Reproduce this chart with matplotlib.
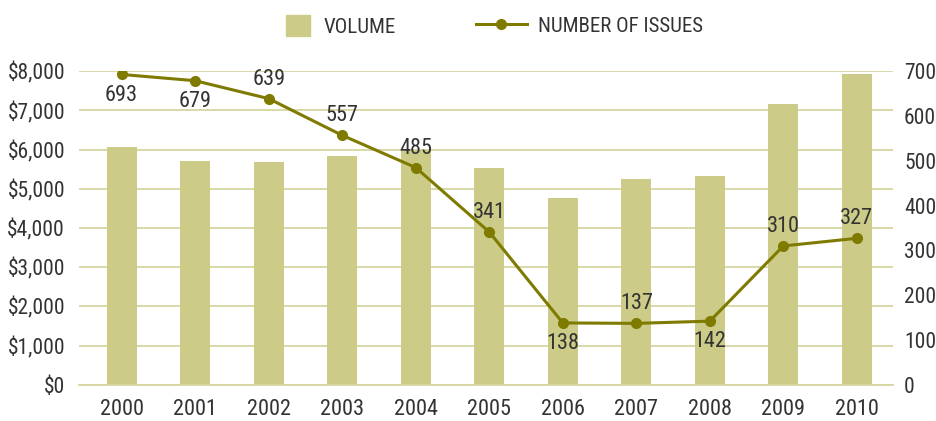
import matplotlib.pyplot as plt
from matplotlib.lines import Line2D
from matplotlib.patches import Patch
from matplotlib.ticker import FuncFormatter

plt.rcParams['font.family'] = ['Liberation Sans Narrow', 'Roboto Condensed', 'Liberation Sans', 'DejaVu Sans']

# 資料
years = ['2000', '2001', '2002', '2003', '2004', '2005',
         '2006', '2007', '2008', '2009', '2010']
volume = [6080, 5720, 5680, 5830, 5990, 5520, 4760, 5250, 5320, 7170, 7930]
issues = [693, 679, 639, 557, 485, 341, 138, 137, 142, 310, 327]
label_above = [False, False, True, True, True, True, False, True, False, True, True]

bar_color = '#cccc88'
line_color = '#7f7a00'
grid_color = '#d6d6a0'
text_color = '#333333'

fig = plt.figure(figsize=(9.36, 4.21), dpi=100)
ax = fig.add_axes([0.0844, 0.0862, 0.8696, 0.7444])
ax2 = ax.twinx()

x = list(range(len(years)))
ax.bar(x, volume, width=0.41, color=bar_color, zorder=2)
ax.set_ylim(0, 8000)
ax.set_xlim(-0.58, 10.49)
ax.set_yticks(range(0, 8001, 1000))
ax.yaxis.set_major_formatter(FuncFormatter(lambda v, p: '${:,.0f}'.format(v)))
ax.set_xticks(x)
ax.set_xticklabels(years)
ax.grid(axis='y', color=grid_color, linewidth=1.3, zorder=0)
ax.set_axisbelow(True)

ax2.plot(x, issues, color=line_color, linewidth=2.2, marker='o', markersize=7, zorder=3)
ax2.set_ylim(0, 700)
ax2.set_yticks(range(0, 701, 100))

for a in (ax, ax2):
    for s in a.spines.values():
        s.set_visible(False)
    a.tick_params(length=0, labelsize=15.5, colors=text_color)
ax.tick_params(axis='x', pad=10, labelsize=16)
ax.tick_params(axis='y', pad=10)
ax2.tick_params(axis='y', pad=8)
ax.spines['bottom'].set_visible(True)
ax.spines['bottom'].set_color(grid_color)
ax.spines['bottom'].set_linewidth(1.3)

# 數值標籤
for i, v in enumerate(issues):
    dy = 14 if label_above[i] else -15
    ax2.annotate(str(v), (i, v), xytext=(0, dy), textcoords='offset points',
                 ha='center', va='center', fontsize=16, color=text_color)

# 圖例
fig.legend([Patch(color=bar_color)], ['VOLUME'], loc='center left',
           bbox_to_anchor=(0.3056, 0.938), frameon=False, fontsize=15,
           handlelength=1.15, handleheight=1.15, handletextpad=0.65,
           borderpad=0, borderaxespad=0, labelcolor=text_color)
fig.legend([Line2D([], [], color=line_color, linewidth=2.2, marker='o', markersize=7)],
           ['NUMBER OF ISSUES'], loc='center left',
           bbox_to_anchor=(0.5085, 0.938), frameon=False, fontsize=15,
           handlelength=2.45, handletextpad=0.55,
           borderpad=0, borderaxespad=0, labelcolor=text_color)

fig.savefig('out.png', dpi=100)
